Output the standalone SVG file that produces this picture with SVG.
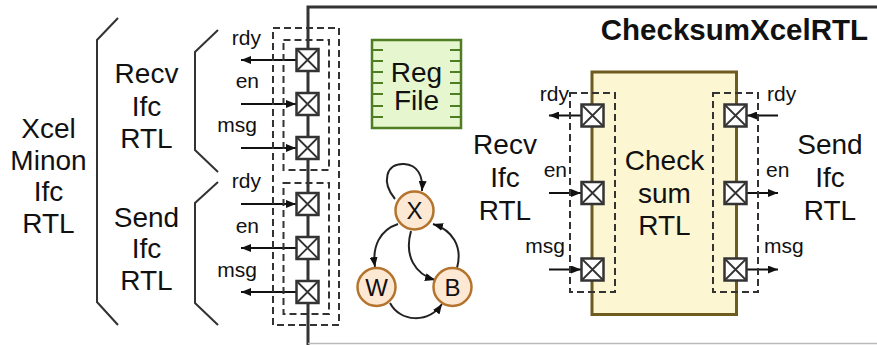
<svg xmlns="http://www.w3.org/2000/svg" width="877" height="345" viewBox="0 0 877 345">
<defs>
<style>
text{font-family:"Liberation Sans",Arial,Helvetica,sans-serif;fill:#111}
.big{font-size:28px;text-anchor:middle}
.sig{font-size:21px}
.st{font-size:24px;text-anchor:middle}
.brace{fill:none;stroke:#333;stroke-width:2}
.dash{fill:none;stroke:#333;stroke-width:2;stroke-dasharray:7,4}
.wire{fill:none;stroke:#111;stroke-width:2}
.edge{fill:none;stroke:#222;stroke-width:2}
.pbox{fill:#fff;stroke:#333;stroke-width:2.5}
.px{stroke:#333;stroke-width:1.8}
.circ{fill:#fde8d4;stroke:#b4742e;stroke-width:2.5}
</style>
<marker id="ah" viewBox="0 0 10 8" refX="10" refY="4" markerWidth="10" markerHeight="8" markerUnits="userSpaceOnUse" orient="auto">
<path d="M0,0 L10,4 L0,8 z" fill="#111"/>
</marker>
<marker id="ah2" viewBox="0 0 10 8" refX="10" refY="4" markerWidth="10" markerHeight="8" markerUnits="userSpaceOnUse" orient="auto">
<path d="M0,0 L10,4 L0,8 z" fill="#111"/>
</marker>
<g id="port">
<rect class="pbox" x="-11" y="-11" width="22" height="22"/>
<path class="px" d="M-10,-10 L10,10 M10,-10 L-10,10"/>
</g>
</defs>
<rect width="877" height="345" fill="#fff"/>

<g id="xcel-box">
<path d="M308,345 V7 H877" fill="none" stroke="#333" stroke-width="3"/>
<line x1="308" y1="343.5" x2="877" y2="343.5" stroke="#bbb" stroke-width="1.5"/>
<text x="868" y="40" font-size="29.5" font-weight="bold" text-anchor="end">ChecksumXcelRTL</text>
</g>

<g id="xcel-minion-label">
<path class="brace" d="M118,18 L97,40 V302 L118,325"/>
<text class="big" x="48.5" y="138">Xcel</text>
<text class="big" x="48.5" y="170">Minon</text>
<text class="big" x="48.5" y="201">Ifc</text>
<text class="big" x="48.5" y="233">RTL</text>
</g>

<g id="recv-ifc-label">
<path class="brace" d="M218,30 L195,52 V150 L218,172"/>
<text class="big" x="146.5" y="83">Recv</text>
<text class="big" x="146.5" y="116">Ifc</text>
<text class="big" x="146.5" y="148">RTL</text>
</g>

<g id="send-ifc-label">
<path class="brace" d="M218,182 L195,203 V303 L218,325"/>
<text class="big" x="146.5" y="227">Send</text>
<text class="big" x="146.5" y="258">Ifc</text>
<text class="big" x="146.5" y="290">RTL</text>
</g>

<g id="connectors">
<line class="wire" x1="296" y1="60" x2="241" y2="60" marker-end="url(#ah)"/>
<line class="wire" x1="241" y1="104" x2="296" y2="104" marker-end="url(#ah)"/>
<line class="wire" x1="241" y1="148" x2="296" y2="148" marker-end="url(#ah)"/>
<line class="wire" x1="241" y1="204" x2="296" y2="204" marker-end="url(#ah)"/>
<line class="wire" x1="296" y1="248" x2="241" y2="248" marker-end="url(#ah)"/>
<line class="wire" x1="296" y1="292" x2="241" y2="292" marker-end="url(#ah)"/>
<line class="wire" x1="581" y1="115.5" x2="549" y2="115.5" marker-end="url(#ah)"/>
<line class="wire" x1="549" y1="193" x2="581" y2="193" marker-end="url(#ah)"/>
<line class="wire" x1="549" y1="269.5" x2="581" y2="269.5" marker-end="url(#ah)"/>
<line class="wire" x1="778" y1="115.5" x2="747" y2="115.5" marker-end="url(#ah)"/>
<line class="wire" x1="747" y1="193" x2="778" y2="193" marker-end="url(#ah)"/>
<line class="wire" x1="747" y1="269.5" x2="778" y2="269.5" marker-end="url(#ah)"/>
<path class="edge" d="M395,199 C381,182 386,163 404,164 C418,165 423,176 422,191" marker-end="url(#ah2)"/>
<path class="edge" d="M398,224 C380,230 372,246 375,267" marker-end="url(#ah2)"/>
<path class="edge" d="M411,231 C404,256 415,274 435,280" marker-end="url(#ah2)"/>
<path class="edge" d="M457,268 C463,246 452,230 433,224" marker-end="url(#ah2)"/>
<path class="edge" d="M390,303 C400,322 428,324 442,304" marker-end="url(#ah2)"/>
</g>

<g id="xcel-ports">
<rect class="dash" x="273" y="28" width="66" height="297"/>
<rect class="dash" x="283.5" y="40" width="45.5" height="130"/>
<rect class="dash" x="283.5" y="183" width="45.5" height="131"/>
<use href="#port" x="307.5" y="60"/>
<use href="#port" x="307.5" y="104"/>
<use href="#port" x="307.5" y="148"/>
<use href="#port" x="307.5" y="204"/>
<use href="#port" x="307.5" y="248"/>
<use href="#port" x="307.5" y="292"/>
<text class="sig" x="261" y="45" text-anchor="end">rdy</text>
<text class="sig" x="259" y="88" text-anchor="end">en</text>
<text class="sig" x="257" y="132" text-anchor="end">msg</text>
<text class="sig" x="261" y="188" text-anchor="end">rdy</text>
<text class="sig" x="259" y="233" text-anchor="end">en</text>
<text class="sig" x="257" y="277" text-anchor="end">msg</text>
</g>

<g id="regfile">
<rect x="372" y="40" width="89" height="88" fill="#e6f7d0" stroke="#4e7d22" stroke-width="2.5"/>
<path d="M372,50H383M372,61H383M372,72H383M372,83H383M372,94H383M372,106H383M372,117H383M450,50H461M450,61H461M450,72H461M450,83H461M450,94H461M450,106H461M450,117H461" stroke="#4e7d22" stroke-width="2"/>
<text class="big" x="416.5" y="82">Reg</text>
<text class="big" x="416.5" y="110">File</text>
</g>

<g id="state-X">
<circle class="circ" cx="414.5" cy="210.5" r="19"/>
<text class="st" x="414.5" y="219">X</text>
</g>
<g id="state-W">
<circle class="circ" cx="376.5" cy="287" r="19"/>
<text class="st" x="376.5" y="295.5">W</text>
</g>
<g id="state-B">
<circle class="circ" cx="452.5" cy="287" r="19"/>
<text class="st" x="452.5" y="295.5">B</text>
</g>

<g id="recv-label-inner">
<text class="big" x="505" y="154">Recv</text>
<text class="big" x="505" y="187">Ifc</text>
<text class="big" x="505" y="220">RTL</text>
</g>
<g id="send-label-inner">
<text class="big" x="830" y="154">Send</text>
<text class="big" x="830" y="187">Ifc</text>
<text class="big" x="830" y="220">RTL</text>
</g>

<g id="checksum">
<rect x="592" y="72" width="144.5" height="242.5" fill="#fdf6d2" stroke="#6e5b1f" stroke-width="3"/>
<text class="big" x="664.5" y="170">Check</text>
<text class="big" x="664.5" y="203">sum</text>
<text class="big" x="664.5" y="235">RTL</text>
</g>

<g id="checksum-recv-ports">
<rect class="dash" x="570" y="93" width="45" height="199"/>
<use href="#port" x="592.5" y="115.5"/>
<use href="#port" x="592.5" y="193"/>
<use href="#port" x="592.5" y="269.5"/>
<text class="sig" x="569" y="101" text-anchor="end">rdy</text>
<text class="sig" x="567" y="177" text-anchor="end">en</text>
<text class="sig" x="565" y="253" text-anchor="end">msg</text>
</g>
<g id="checksum-send-ports">
<rect class="dash" x="713" y="93" width="45" height="199"/>
<use href="#port" x="735.5" y="115.5"/>
<use href="#port" x="735.5" y="193"/>
<use href="#port" x="735.5" y="269.5"/>
<text class="sig" x="767" y="101">rdy</text>
<text class="sig" x="766" y="177">en</text>
<text class="sig" x="764" y="253">msg</text>
</g>
</svg>
